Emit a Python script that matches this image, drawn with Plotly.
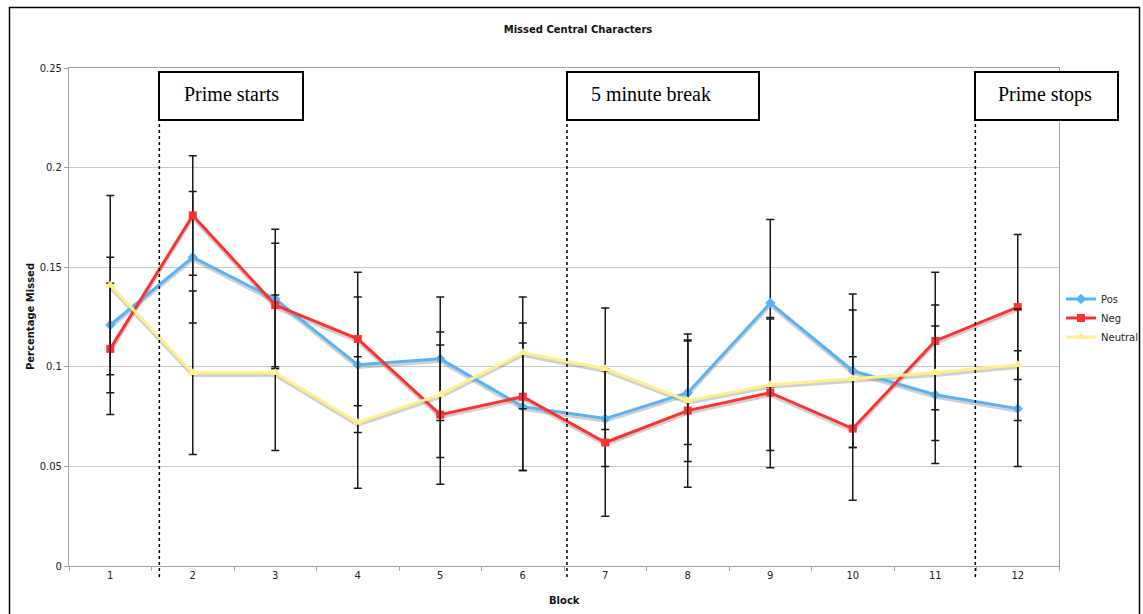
import plotly.graph_objects as go

# Block numbers along the x axis
blocks = [str(i) for i in range(1, 13)]

# Mean proportion of missed central characters per block
pos = [0.121, 0.155, 0.134, 0.101, 0.104, 0.080, 0.074, 0.087, 0.132, 0.098, 0.086, 0.079]
neg = [0.109, 0.176, 0.131, 0.114, 0.076, 0.085, 0.062, 0.078, 0.087, 0.069, 0.113, 0.130]
neutral = [0.141, 0.097, 0.097, 0.072, 0.086, 0.107, 0.099, 0.083, 0.091, 0.094, 0.097, 0.101]

# Error bar half-widths
pos_err = [0.034, 0.033, 0.035, 0.034, 0.031, 0.032, 0.024, 0.026, 0.042, 0.0385, 0.0345, 0.029]
neg_err = [0.033, 0.030, 0.031, 0.0335, 0.035, 0.037, 0.037, 0.0385, 0.0377, 0.036, 0.0345, 0.0364]
neutral_err = [0.045, 0.041, 0.039, 0.033, 0.0315, 0.028, 0.0305, 0.0305, 0.033, 0.0345, 0.034, 0.028]

# Y axis ticks
y_ticks = [0, 0.05, 0.1, 0.15, 0.2, 0.25]
y_tick_labels = ["0", "0.05", "0.1", "0.15", "0.2", "0.25"]

# Phase markers (in block units) and their labels
phase_positions = [1.595, 6.536, 11.486]
phase_labels = ["Prime starts", "5 minute break", "Prime stops"]

W, H = 1143, 614
L, R, T, B = 69, 84, 68, 48
plot_w = W - L - R
plot_h = H - T - B


def pxx(p):
    return (p - L) / plot_w


def pxy(p):
    return (H - B - p) / plot_h


series = [
    ("Pos", pos, pos_err, "#56B4F5", "diamond", 8),
    ("Neg", neg, neg_err, "#FF3030", "square", 8),
    ("Neutral", neutral, neutral_err, "#FFF08C", "triangle-up", 9),
]

fig = go.Figure()

# soft drop shadows under each line
for name, vals, err, color, sym, size in series:
    fig.add_trace(go.Scatter(
        x=blocks, y=[v - 0.0012 for v in vals], mode="lines",
        line=dict(color="rgba(120,120,120,0.35)", width=3.5),
        showlegend=False, hoverinfo="skip",
    ))

for name, vals, err, color, sym, size in series:
    fig.add_trace(go.Scatter(
        x=blocks, y=vals, name=name, mode="lines+markers",
        line=dict(color=color, width=3),
        marker=dict(color=color, symbol=sym, size=size),
        error_y=dict(type="data", array=err, visible=True,
                     color="#1a1a1a", thickness=1.5, width=4),
    ))

shapes = []
annotations = []

# dotted phase lines and labelled boxes
box_bounds = [(159, 303), (567, 759), (975, 1118)]
text_centers = [231, 651, 1045]
for pos_b, label, (bx0, bx1), tc in zip(phase_positions, phase_labels, box_bounds, text_centers):
    xp = (pos_b - 0.5) / 12
    shapes.append(dict(type="line", xref="paper", yref="paper",
                       x0=xp, x1=xp, y0=pxy(577), y1=pxy(120),
                       line=dict(color="black", width=1.5, dash="dot")))
    shapes.append(dict(type="rect", xref="paper", yref="paper",
                       x0=pxx(bx0), x1=pxx(bx1), y0=pxy(120), y1=pxy(72),
                       line=dict(color="black", width=2), fillcolor="white"))
    annotations.append(dict(text=label, xref="paper", yref="paper",
                            x=pxx(tc), y=pxy(94), showarrow=False,
                            xanchor="center", yanchor="middle",
                            font=dict(family="Liberation Serif", size=20, color="black")))

# outer frame
shapes.append(dict(type="rect", xref="paper", yref="paper", layer="below",
                   x0=pxx(9.5), x1=pxx(1139.5), y0=pxy(640), y1=pxy(7.5),
                   line=dict(color="black", width=1.5), fillcolor="rgba(0,0,0,0)"))

# axis titles
annotations.append(dict(text="<b>Percentage Missed</b>", xref="paper", yref="paper",
                        x=pxx(30), y=pxy(317), textangle=-90, showarrow=False,
                        xanchor="center", yanchor="middle",
                        font=dict(family="DejaVu Sans", size=10, color="#111")))
annotations.append(dict(text="<b>Block</b>", xref="paper", yref="paper",
                        x=pxx(564), y=pxy(600), showarrow=False,
                        xanchor="center", yanchor="middle",
                        font=dict(family="DejaVu Sans", size=10, color="#111")))

fig.update_layout(
    width=W, height=H,
    margin=dict(l=L, r=R, t=T, b=B, autoexpand=False),
    paper_bgcolor="white", plot_bgcolor="white",
    title=dict(text="<b>Missed Central Characters</b>", x=578 / W, xanchor="center",
               y=1 - 29 / H, yanchor="middle",
               font=dict(family="DejaVu Sans", size=10, color="#111")),
    font=dict(family="DejaVu Sans", size=10, color="#222"),
    showlegend=True,
    legend=dict(x=pxx(1061), y=pxy(318), xanchor="left", yanchor="middle",
                bgcolor="rgba(0,0,0,0)", font=dict(size=10, color="#222"),
                itemwidth=30),
    xaxis=dict(type="category", range=[-0.5, 11.5], showgrid=False,
               showline=True, linecolor="#a0a0a0", linewidth=1.2, mirror=True,
               ticks="outside", tickson="boundaries", ticklen=4, tickcolor="#a0a0a0",
               tickfont=dict(size=10, color="#222")),
    yaxis=dict(range=[0, 0.25], tickvals=y_ticks, ticktext=y_tick_labels,
               showgrid=True, gridcolor="#c8c8c8", gridwidth=1,
               showline=True, linecolor="#a0a0a0", linewidth=1.2, mirror=True,
               ticks="outside", ticklen=4, tickcolor="#a0a0a0", zeroline=False,
               tickfont=dict(size=10, color="#222")),
    shapes=shapes,
    annotations=annotations,
)

fig.write_html("out.html")
